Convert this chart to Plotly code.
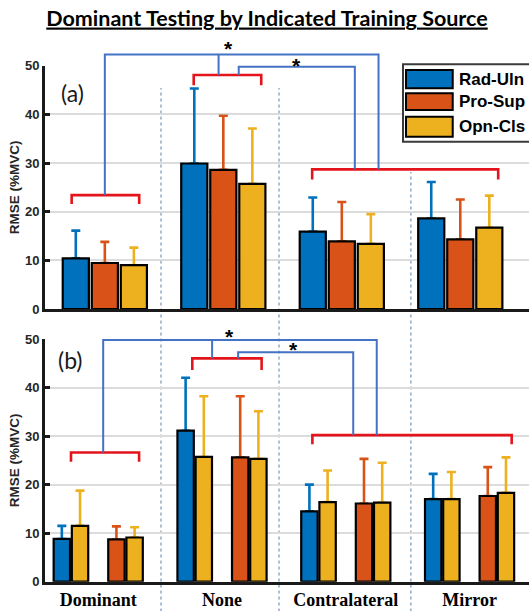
import plotly.graph_objects as go

# ---------------- data ----------------
categories = ["Dominant", "None", "Contralateral", "Mirror"]
series_names = ["Rad-Uln", "Pro-Sup", "Opn-Cls"]
colors = ["#0072BD", "#D95319", "#EDB120"]

# Panel (a): mean RMSE and SD (upper error) per training source
a_mean = {
    "Rad-Uln": [10.4, 29.9, 15.9, 18.6],
    "Pro-Sup": [9.45, 28.6, 13.9, 14.3],
    "Opn-Cls": [9.0, 25.7, 13.4, 16.7],
}
a_sd = {
    "Rad-Uln": [5.7, 15.4, 7.0, 7.5],
    "Pro-Sup": [4.35, 11.1, 8.1, 8.2],
    "Opn-Cls": [3.6, 11.4, 6.1, 6.6],
}

# Panel (b): paired comparisons (Rad-Uln vs Opn-Cls, Pro-Sup vs Opn-Cls)
b_slots = ["Rad-Uln", "Opn-Cls", None, "Pro-Sup", "Opn-Cls"]
b_mean = [
    [8.8, 31.1, 14.5, 17.0],
    [11.5, 25.7, 16.4, 17.0],
    None,
    [8.7, 25.6, 16.1, 17.65],
    [9.1, 25.3, 16.3, 18.3],
]
b_sd = [
    [2.7, 10.9, 5.5, 5.2],
    [7.25, 12.5, 6.5, 5.6],
    None,
    [2.7, 12.6, 9.2, 5.95],
    [2.1, 9.8, 8.2, 7.3],
]

y_ticks = [0, 10, 20, 30, 40, 50]
YMAX = 50

# significance brackets: (x0, x1, y, drop) in category units / data values
a_red = [(-0.28, 0.29, 23.4, 1.8), (0.75, 1.32, 48.1, 2.1), (1.75, 3.32, 28.7, 2.1)]
a_blue = [
    [(0.0, 23.4), (0.0, 52.3), (2.31, 52.3), (2.31, 28.7)],
    [(0.96, 48.1), (0.96, 52.3)],
    [(1.13, 48.1), (1.13, 49.8), (2.11, 49.8), (2.11, 28.7)],
]
a_stars = [(1.045, 53.6), (1.617, 50.1)]

b_red = [(-0.22, 0.33, 26.6, 1.9), (0.76, 1.32, 46.0, 2.4), (1.73, 3.34, 30.2, 1.9)]
b_blue = [
    [(0.04, 26.6), (0.04, 49.8), (2.25, 49.8), (2.25, 30.2)],
    [(0.92, 46.0), (0.92, 49.8)],
    [(1.13, 46.0), (1.13, 47.25), (2.06, 47.25), (2.06, 30.2)],
]
b_stars = [(1.06, 50.6), (1.576, 47.8)]

color_of = dict(zip(series_names, colors))

fig = go.Figure()


def add_bar(name, means, sds, xa, ya, group, color):
    # error bar trace drawn first (hidden bar), real bar on top hides the lower part
    fig.add_trace(go.Bar(
        x=categories, y=means, xaxis=xa, yaxis=ya, offsetgroup=group,
        marker=dict(color="rgba(0,0,0,0)", line=dict(width=0)),
        error_y=dict(type="data", array=sds, arrayminus=[0] * len(sds), symmetric=False,
                     color=color, thickness=2.6, width=4.5),
        showlegend=False, hoverinfo="skip",
    ))
    fig.add_trace(go.Bar(
        x=categories, y=means, xaxis=xa, yaxis=ya, offsetgroup=group, name=name,
        marker=dict(color=color, line=dict(color="black", width=2.2)),
        showlegend=False,
    ))


for i, s in enumerate(series_names):
    add_bar(s, a_mean[s], a_sd[s], "x", "y", f"a{i}", color_of[s])

for i, s in enumerate(b_slots):
    if s is None:
        fig.add_trace(go.Bar(x=categories, y=[0] * len(categories), xaxis="x2", yaxis="y2",
                             offsetgroup=f"b{i}", marker=dict(color="rgba(0,0,0,0)", line=dict(width=0)),
                             showlegend=False, hoverinfo="skip"))
    else:
        add_bar(s, b_mean[i], b_sd[i], "x2", "y2", f"b{i}", color_of[s])

shapes = []
RED = "#E3141B"
BLUE = "#4472C4"


def brackets(red, blue, xref, yref):
    for x0, x1, y, d in red:
        path = (f"M {x0},{(y - d) / YMAX} L {x0},{y / YMAX} L {x1},{y / YMAX} L {x1},{(y - d) / YMAX}")
        shapes.append(dict(type="path", path=path, xref=xref, yref=yref + " domain",
                           line=dict(color=RED, width=2.6)))
    for pts in blue:
        path = "M " + " L ".join(f"{px},{py / YMAX}" for px, py in pts)
        shapes.append(dict(type="path", path=path, xref=xref, yref=yref + " domain",
                           line=dict(color=BLUE, width=2)))


brackets(a_red, a_blue, "x", "y")
brackets(b_red, b_blue, "x2", "y2")

# dashed separators (figure level)
for xp, ytop in [(0.2397, 0.856), (0.4835, 0.856), (0.756, 0.7185)]:
    shapes.append(dict(type="line", xref="paper", yref="paper", x0=xp, x1=xp, y0=-0.05, y1=ytop,
                       line=dict(color="#5b7fa8", width=1, dash="3px,3px"), layer="below"))

annotations = []
for stars, xr, yr in [(a_stars, "x", "y domain"), (b_stars, "x2", "y2 domain")]:
    for (sx, sy) in stars:
        annotations.append(dict(x=sx, y=sy / YMAX, xref=xr, yref=yr, text="<b>*</b>", showarrow=False,
                                xanchor="center", yanchor="middle",
                                font=dict(family="Liberation Sans", size=21, color="black")))

# panel labels
for lab, xp, yp in [("(a)", 0.0558, 0.848), ("(b)", 0.0527, 0.4108)]:
    annotations.append(dict(x=xp, y=yp, xref="paper", yref="paper", text=lab, showarrow=False,
                            xanchor="center", yanchor="middle",
                            font=dict(family="Lato", size=23, color="#1a1a1a")))

# legend box (panel a)
shapes.append(dict(type="rect", xref="paper", yref="paper", x0=0.7397, x1=1.01, y0=0.7681, y1=0.8948,
                   fillcolor="white", line=dict(color="#3a3a3a", width=2)))
sw_y = [(0.8854, 0.8555), (0.8473, 0.8200), (0.8090, 0.7763)]
for (y1, y0), s in zip(sw_y, series_names):
    shapes.append(dict(type="rect", xref="paper", yref="paper", x0=0.7459, x1=0.8424, y0=y0, y1=y1,
                       fillcolor=color_of[s], line=dict(color="black", width=2)))
    annotations.append(dict(x=0.8506, y=(y0 + y1) / 2, xref="paper", yref="paper", text=f"<b>{s}</b>",
                            showarrow=False, xanchor="left", yanchor="middle",
                            font=dict(family="Liberation Sans", size=17, color="black")))

yax = dict(range=[0, YMAX], tickvals=y_ticks, showgrid=True, gridcolor="#dcdcdc", gridwidth=2,
           zeroline=False, showline=True, linecolor="#1a1a1a", linewidth=3, ticks="inside",
           ticklen=5, tickwidth=2.5, tickcolor="#1a1a1a", automargin=False,
           tickfont=dict(family="Liberation Sans", size=13, color="#262626", weight="bold"),
           title=dict(text="<b>RMSE (%MVC)</b>", font=dict(family="Liberation Sans", size=13.5, color="#262626"),
                      standoff=3))
xax = dict(type="category", showline=True, linecolor="#1a1a1a", linewidth=3, ticks="", showgrid=False,
           zeroline=False, automargin=False)

fig.update_layout(
    width=529, height=611,
    margin=dict(l=45, r=0, t=0, b=0, autoexpand=False),
    paper_bgcolor="white", plot_bgcolor="white",
    barmode="group", bargap=0.265, bargroupgap=0.1,
    title=dict(text="<b><u>Dominant Testing by Indicated Training Source</u></b>", x=0.4587, xref="paper",
               y=0.9705, yref="container", xanchor="center", yanchor="middle",
               font=dict(family="Lato", size=21.5, color="black")),
    xaxis=dict(xax, domain=[0, 1], anchor="y", range=[-0.505, 3.58], showticklabels=False),
    yaxis=dict(yax, domain=[0.4943, 0.8925], anchor="x"),
    xaxis2=dict(xax, domain=[0, 1], anchor="y2", range=[-0.43, 3.48], showticklabels=True,
                tickfont=dict(family="Liberation Serif", size=18, color="black", weight="bold")),
    yaxis2=dict(yax, domain=[0.048, 0.4452], anchor="x2"),
    shapes=shapes, annotations=annotations,
)

fig.write_html("out.html")
